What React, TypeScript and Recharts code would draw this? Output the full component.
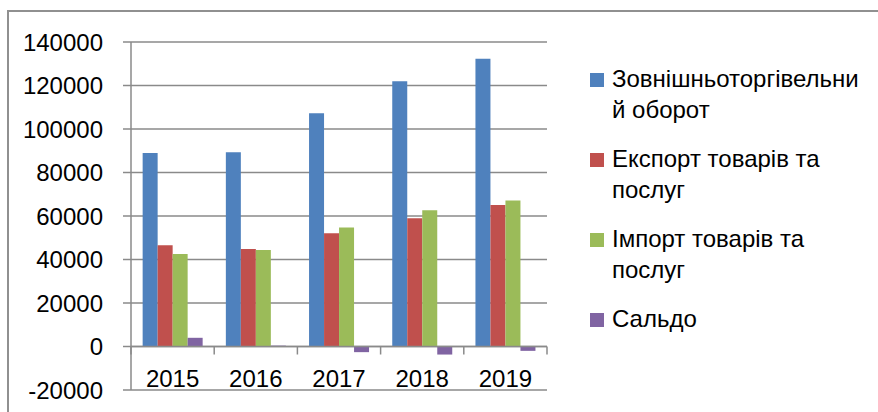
import React from 'react';
import { BarChart, Bar, XAxis, YAxis, CartesianGrid, ReferenceLine } from 'recharts';

const years = ['2015', '2016', '2017', '2018', '2019'];
const turnover = [89000, 89300, 107200, 122000, 132300];
const exportValues = [46500, 44800, 52100, 59000, 65100];
const importValues = [42500, 44400, 54700, 62700, 67100];
const saldo = [4000, 400, -2600, -3700, -2000];
const yTicks = [-20000, 0, 20000, 40000, 60000, 80000, 100000, 120000, 140000];

const seriesKeys = ['turnover', 'export', 'import', 'saldo'];
const seriesColors = ['#4F81BD', '#C0504D', '#9BBB59', '#8064A2'];
const legendLines = [
  ['Зовнішньоторгівельни', 'й оборот'],
  ['Експорт товарів та', 'послуг'],
  ['Імпорт товарів та', 'послуг'],
  ['Сальдо'],
];

const data = years.map((year, i) => ({
  year,
  turnover: turnover[i],
  export: exportValues[i],
  import: importValues[i],
  saldo: saldo[i],
}));

const FONT = '"Liberation Sans", Arial, sans-serif';
const FS = 24;
const GRID = '#8a8a8a';

const XTick = (props: any) => {
  const { x, y, payload } = props;
  return (
    <text x={x} y={y - 3} textAnchor="middle" fontFamily={FONT} fontSize={FS} fill="#000">
      {payload.value}
    </text>
  );
};

const ZeroAxis = (props: any) => {
  const { x1, y1, x2 } = props;
  const n = years.length;
  const step = (x2 - x1) / n;
  const marks = [];
  for (let i = 0; i <= n; i++) {
    const xx = x1 + step * i;
    marks.push(<line key={i} x1={xx} y1={y1} x2={xx} y2={y1 + 8} stroke={GRID} strokeWidth={1.5} />);
  }
  return (
    <g>
      <line x1={x1} y1={y1} x2={x2} y2={y1} stroke={GRID} strokeWidth={1.5} />
      {marks}
    </g>
  );
};

export default function App() {
  return (
    <div style={{ position: 'absolute', left: 0, top: 0, width: 878, height: 412, background: '#fff', overflow: 'hidden' }}>
      <div
        style={{
          position: 'absolute',
          left: 7,
          top: 10,
          width: 869,
          height: 400,
          borderLeft: '2px solid #909090',
          borderTop: '2px solid #909090',
        }}
      />
      <div style={{ position: 'absolute', left: 0, top: 0 }}>
        <BarChart
          width={878}
          height={412}
          data={data}
          margin={{ top: 42, right: 331, bottom: 0, left: 0 }}
          barCategoryGap="14%"
          barGap={0}
        >
          <CartesianGrid vertical={false} stroke={GRID} strokeWidth={1.5} />
          <XAxis
            dataKey="year"
            height={22}
            axisLine={false}
            tickLine={false}
            tickSize={0}
            tickMargin={0}
            tick={<XTick />}
            interval={0}
          />
          <YAxis
            width={131}
            domain={[-20000, 140000]}
            ticks={yTicks}
            interval={0}
            axisLine={{ stroke: GRID, strokeWidth: 1.5 }}
            tickLine={{ stroke: GRID, strokeWidth: 1.5 }}
            tickSize={8}
            tickMargin={20}
            tick={{ fontFamily: FONT, fontSize: FS, fill: '#000' }}
          />
          {seriesKeys.map((k, i) => (
            <Bar key={k} dataKey={k} fill={seriesColors[i]} isAnimationActive={false} />
          ))}
          <ReferenceLine y={0} shape={<ZeroAxis />} />
        </BarChart>
      </div>
      {legendLines.map((lines, i) => (
        <div
          key={i}
          style={{
            position: 'absolute',
            left: 590,
            top: 62.6 + i * 80,
            display: 'flex',
            alignItems: 'flex-start',
            fontFamily: FONT,
            fontSize: FS,
            lineHeight: '31.5px',
            color: '#000',
          }}
        >
          <div style={{ width: 14, height: 14, marginTop: 10, background: seriesColors[i], flex: 'none' }} />
          <div style={{ marginLeft: 8, whiteSpace: 'nowrap' }}>
            {lines.map((l, j) => (
              <div key={j}>{l}</div>
            ))}
          </div>
        </div>
      ))}
    </div>
  );
}
